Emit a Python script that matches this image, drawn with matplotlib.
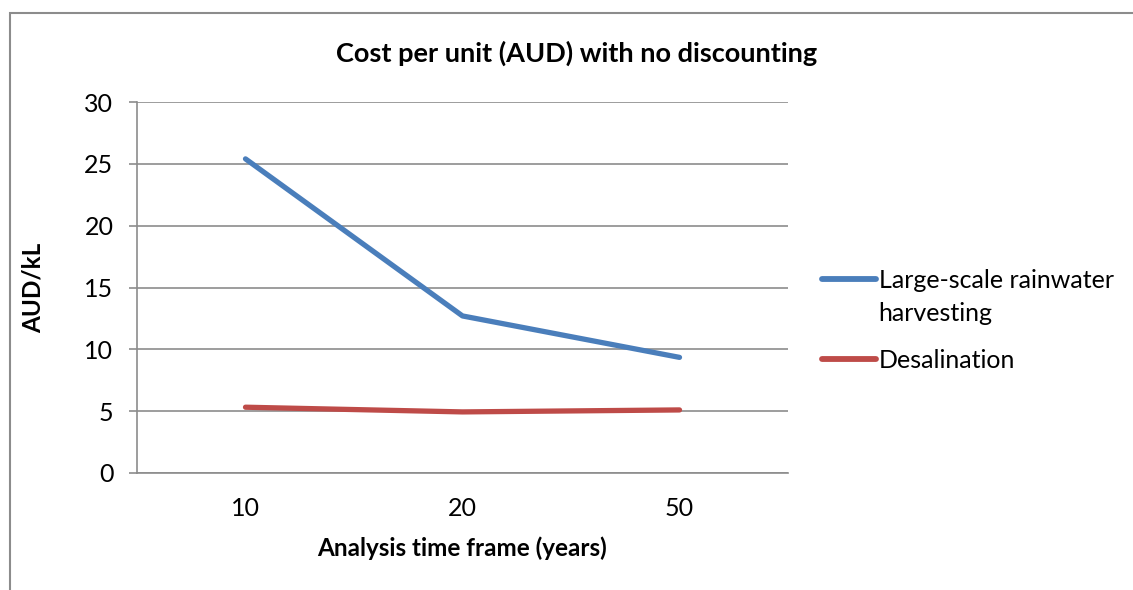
import numpy as np
import matplotlib
matplotlib.use("Agg")
import matplotlib.pyplot as plt
from matplotlib.patches import Rectangle

# data
years = ["10", "20", "50"]
rainwater = [25.4, 12.7, 9.35]
desal = [5.32, 4.94, 5.1]
y_ticks = [0, 5, 10, 15, 20, 25, 30]

plt.rcParams['font.family'] = ['Lato', 'DejaVu Sans']

fig = plt.figure(figsize=(11.33, 5.90), dpi=100)
W, H = 1133, 590
ax = fig.add_axes([137 / W, (590 - 473) / H, (788 - 137) / W, (473 - 102) / H])

x = np.arange(len(years))
ax.plot(x, rainwater, color="#4A7EBB", linewidth=3.8, solid_capstyle="round",
        label="Large-scale rainwater")
ax.plot(x, desal, color="#BE4B48", linewidth=3.8, solid_capstyle="round",
        label="Desalination")

ax.set_xlim(-0.5, 2.5)
ax.set_ylim(0, 30)
ax.set_yticks(y_ticks)
ax.set_xticks(x)
ax.set_xticklabels(years)
ax.yaxis.grid(True, color="#8c8c8c", linewidth=1.2)
ax.set_axisbelow(True)

for s in ["top", "right"]:
    ax.spines[s].set_visible(False)
ax.spines["left"].set_color("#8c8c8c")
ax.spines["bottom"].set_color("#8c8c8c")
ax.spines["left"].set_linewidth(1.2)
ax.spines["bottom"].set_linewidth(1.2)

ax.tick_params(axis="y", length=6, color="#8c8c8c", width=1.2, labelsize=18, pad=11)
ax.tick_params(axis="x", length=0, labelsize=18, pad=17)

ax.set_xlabel("Analysis time frame (years)", fontsize=17.5, fontweight="bold")
ax.set_ylabel("AUD/kL", fontsize=17.5, fontweight="bold")
ax.xaxis.set_label_coords(0.5, (473 - 548) / 371)
ax.yaxis.set_label_coords((33 - 137) / 651, 0.5)
ax.xaxis.label.set_va("center")
ax.yaxis.label.set_va("center")

fig.text(577 / W, 1 - 53 / H, "Cost per unit (AUD) with no discounting",
         fontsize=19.5, fontweight="bold", ha="center", va="center")

leg = fig.legend(loc="upper left", bbox_to_anchor=(822 / W, 1 - 269 / H), frameon=False,
                 fontsize=18, handlelength=2.15, handletextpad=0.12, labelspacing=2.28,
                 borderaxespad=0, borderpad=0)
for h in leg.legend_handles:
    h.set_linewidth(4.2)

# second line of the first legend label, set under the first line
fig.canvas.draw()
bb = leg.get_texts()[0].get_window_extent()
fig.text(bb.x0 / W, (bb.y0 - 33) / H, "harvesting", fontsize=18, ha="left", va="bottom")

# outer chart border (cut off at the right and bottom)
fig.patches.append(Rectangle((10 / W, -0.1), 1.2, 1 - 13 / H + 0.1, transform=fig.transFigure,
                             fill=False, edgecolor="#8c8c8c", linewidth=1.5))

fig.savefig("out.png", dpi=100)
